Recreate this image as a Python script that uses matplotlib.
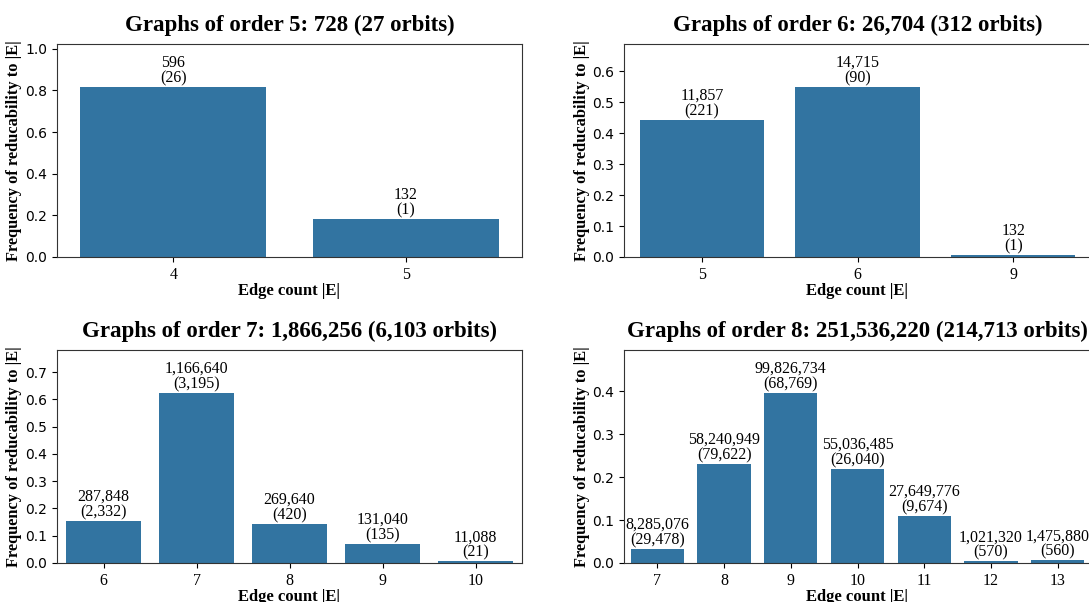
import matplotlib
matplotlib.use("Agg")
import matplotlib.pyplot as plt
from matplotlib.ticker import MultipleLocator

# graphs per edge count and number of orbits, one set per order
orders = [5, 6, 7, 8]

edges_5 = [4, 5]
counts_5 = [596, 132]
orbits_5 = [26, 1]

edges_6 = [5, 6, 9]
counts_6 = [11857, 14715, 132]
orbits_6 = [221, 90, 1]

edges_7 = [6, 7, 8, 9, 10]
counts_7 = [287848, 1166640, 269640, 131040, 11088]
orbits_7 = [2332, 3195, 420, 135, 21]

edges_8 = [7, 8, 9, 10, 11, 12, 13]
counts_8 = [8285076, 58240949, 99826734, 55036485, 27649776, 1021320, 1475880]
orbits_8 = [29478, 79622, 68769, 26040, 9674, 570, 560]

data = [
    (edges_5, counts_5, orbits_5),
    (edges_6, counts_6, orbits_6),
    (edges_7, counts_7, orbits_7),
    (edges_8, counts_8, orbits_8),
]
ytick_steps = [0.2, 0.1, 0.1, 0.1]

serif = "Liberation Serif"
bar_color = "#3274a1"

W, H = 1089, 602
fig = plt.figure(figsize=(W / 100, H / 100), dpi=100)

# axes boxes in pixels: left, top, right, bottom
boxes = [
    (57, 44, 522, 257),
    (624, 44, 1091, 257),
    (57, 350, 522, 563),
    (624, 350, 1091, 563),
]

for n, (edges, counts, orbits), (l, t, r, b), step in zip(orders, data, boxes, ytick_steps):
    ax = fig.add_axes([l / W, 1 - b / H, (r - l) / W, (b - t) / H])
    total = sum(counts)
    freqs = [c / total for c in counts]
    xs = list(range(len(edges)))
    ax.bar(xs, freqs, width=0.8, color=bar_color)
    ax.set_xlim(-0.5, len(edges) - 0.5)
    ax.set_ylim(0, max(freqs) * 1.25)
    ax.yaxis.set_major_locator(MultipleLocator(step))
    ax.set_xticks(xs)
    ax.set_xticklabels([str(e) for e in edges], fontfamily=serif, fontsize=11.5)
    ax.tick_params(axis="y", labelsize=10)
    for sp in ax.spines.values():
        sp.set_color("#333333")
    for x, f, c, o in zip(xs, freqs, counts, orbits):
        ax.annotate(f"{c:,}\n({o:,})", (x, f), xytext=(0, 0.5), textcoords="offset points",
                    ha="center", va="bottom", fontfamily=serif, fontsize=11.5,
                    linespacing=0.95)
    ax.set_title(f"Graphs of order {n}: {total:,} ({sum(orbits):,} orbits)",
                 fontfamily=serif, fontweight="bold", fontsize=16.5, pad=9)
    ax.set_xlabel("Edge count |E|", fontfamily=serif, fontweight="bold", fontsize=12, labelpad=0)
    ax.set_ylabel("Frequency of reducability to |E|", fontfamily=serif,
                  fontweight="bold", fontsize=11.8, labelpad=2)

fig.savefig("out.png", dpi=100)
